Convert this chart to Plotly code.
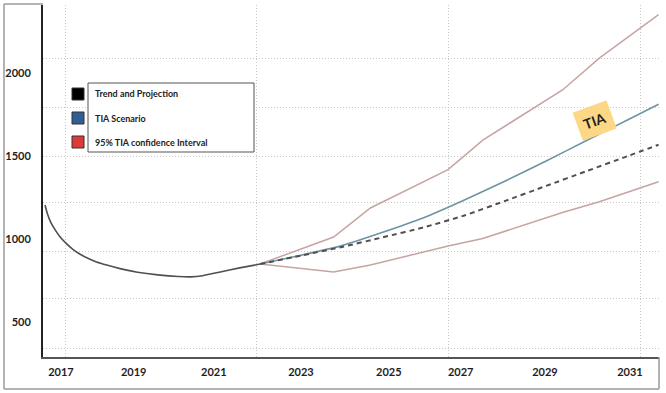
import plotly.graph_objects as go

# ---------------- data ----------------
trend_years = [2016.74, 2016.80, 2016.88, 2016.98, 2017.1, 2017.25, 2017.42, 2017.6, 2017.8, 2018.0,
               2018.25, 2018.6, 2019.0, 2019.5, 2020.0, 2020.3, 2020.6, 2021.0, 2021.5, 2022.0]
trend_values = [1205, 1150, 1100, 1058, 1015, 975, 938, 908, 882, 862,
                843, 820, 800, 784, 774, 772, 779, 800, 826, 849]

proj_years = [2022, 2023, 2024, 2025, 2026, 2027, 2028, 2029, 2030, 2031, 2031.75]
proj_values = [849, 900, 952, 1010, 1070, 1142, 1230, 1320, 1410, 1500, 1568]

tia_years = [2022, 2023, 2024, 2025, 2026, 2027, 2028, 2029, 2030, 2031, 2031.75]
tia_values = [849, 902, 960, 1040, 1128, 1235, 1350, 1470, 1595, 1718, 1812]

ci_years = [2022, 2023.8, 2024.7, 2026.6, 2027.45, 2029.4, 2030.3, 2031.75]
ci_upper = [849, 1012, 1187, 1418, 1596, 1898, 2090, 2352]
ci_lower = [849, 801, 843, 958, 1003, 1160, 1225, 1345]

y_tick_vals = [500, 1000, 1500, 2000]
x_tick_text = ['2017', '2019', '2021', '2023', '2025', '2027', '2029', '2031']
x_tick_pos = [2017.13, 2018.91, 2020.87, 2023.0, 2025.15, 2026.91, 2028.97, 2031.05]

legend_labels = ['Trend and Projection', 'TIA Scenario', '95% TIA confidence Interval']
legend_colors = ['#000000', '#2F5F95', '#E0393B']

# ---------------- style ----------------
W, H = 666, 393
ML, MR, MT, MB = 43, 7, 5, 36
PW, PH = W - ML - MR, H - MT - MB

def px(xp):
    return (xp - ML) / PW

def py(yp):
    return (H - MB - yp) / PH

TREND_C = '#505050'
TIA_C = '#6F93A3'
CI_C = '#C6A4A2'
FONT = 'Lato, sans-serif'

fig = go.Figure()
fig.add_trace(go.Scatter(x=trend_years, y=trend_values, mode='lines',
                         line=dict(color=TREND_C, width=1.6, shape='spline', smoothing=0.5),
                         showlegend=False, hoverinfo='skip'))
fig.add_trace(go.Scatter(x=ci_years, y=ci_upper, mode='lines',
                         line=dict(color=CI_C, width=1.5), showlegend=False))
fig.add_trace(go.Scatter(x=ci_years, y=ci_lower, mode='lines',
                         line=dict(color=CI_C, width=1.5), showlegend=False))
fig.add_trace(go.Scatter(x=tia_years, y=tia_values, mode='lines',
                         line=dict(color=TIA_C, width=1.6, shape='spline', smoothing=0.6),
                         showlegend=False))
fig.add_trace(go.Scatter(x=proj_years, y=proj_values, mode='lines',
                         line=dict(color=TREND_C, width=2, dash='5px,4px', shape='spline', smoothing=0.6),
                         showlegend=False))

grid_c = '#c8c8c8'
tick_font = dict(family=FONT, size=11, color='#1e1e1e', weight='bold')
fig.update_xaxes(range=[2016.69, 2031.76], showgrid=False, zeroline=False,
                 tickmode='array', tickvals=x_tick_pos, ticktext=x_tick_text,
                 ticks='', ticklabelstandoff=4, tickfont=tick_font,
                 showline=True, linecolor='#555', linewidth=1.5,
                 minor=dict(tickmode='array', tickvals=[2017.25, 2021.92, 2026.62, 2031.31],
                            showgrid=True, gridcolor=grid_c, griddash='1px,2px', gridwidth=1, ticks=''))
fig.update_yaxes(range=[289, 2410], showgrid=False, zeroline=False,
                 tickmode='array', tickvals=y_tick_vals,
                 ticks='', ticklabelstandoff=8, tickfont=tick_font,
                 showline=True, linecolor='#222', linewidth=2,
                 minor=dict(tickmode='array', tickvals=[343, 639, 922, 1217, 1500, 1795, 2090],
                            showgrid=True, gridcolor=grid_c, griddash='1px,2px', gridwidth=1, ticks=''))

shapes = []
frame = dict(type='line', xref='paper', yref='paper', line=dict(color='#9a9a9a', width=1.5))
shapes.append(dict(frame, x0=px(4), x1=px(4), y0=py(4), y1=py(389)))
shapes.append(dict(frame, x0=px(4), x1=px(43), y0=py(4), y1=py(4)))
shapes.append(dict(frame, x0=px(4), x1=px(659), y0=py(389), y1=py(389)))
shapes.append(dict(frame, x0=px(659), x1=px(659), y0=py(357), y1=py(389)))

shapes.append(dict(type='rect', xref='paper', yref='paper', x0=px(88), x1=px(254), y0=py(83), y1=py(152),
                   line=dict(color='#555', width=1), fillcolor='white'))
sq_tops = [88, 112, 136]
for top, col in zip(sq_tops, legend_colors):
    shapes.append(dict(type='rect', xref='paper', yref='paper', x0=px(72), x1=px(84), y0=py(top), y1=py(top + 12),
                       line=dict(color='#333', width=1), fillcolor=col))

annotations = []
for top, lab in zip(sq_tops, legend_labels):
    annotations.append(dict(xref='paper', yref='paper', x=px(93), y=py(top + 6), text=lab, showarrow=False,
                            xanchor='left', yanchor='middle',
                            font=dict(family=FONT, size=9, color='#222', weight='bold')))

annotations.append(dict(x=2030.19, y=1717, text='<b>TIA</b>', showarrow=False, textangle=-20,
                        bgcolor='#FCD886', borderpad=6,
                        font=dict(family=FONT, size=14, color='#222')))

fig.update_layout(width=W, height=H, margin=dict(l=ML, r=MR, t=MT, b=MB),
                  paper_bgcolor='white', plot_bgcolor='white',
                  shapes=shapes, annotations=annotations, showlegend=False,
                  font=dict(family=FONT, size=11))

fig.write_html('out.html')
